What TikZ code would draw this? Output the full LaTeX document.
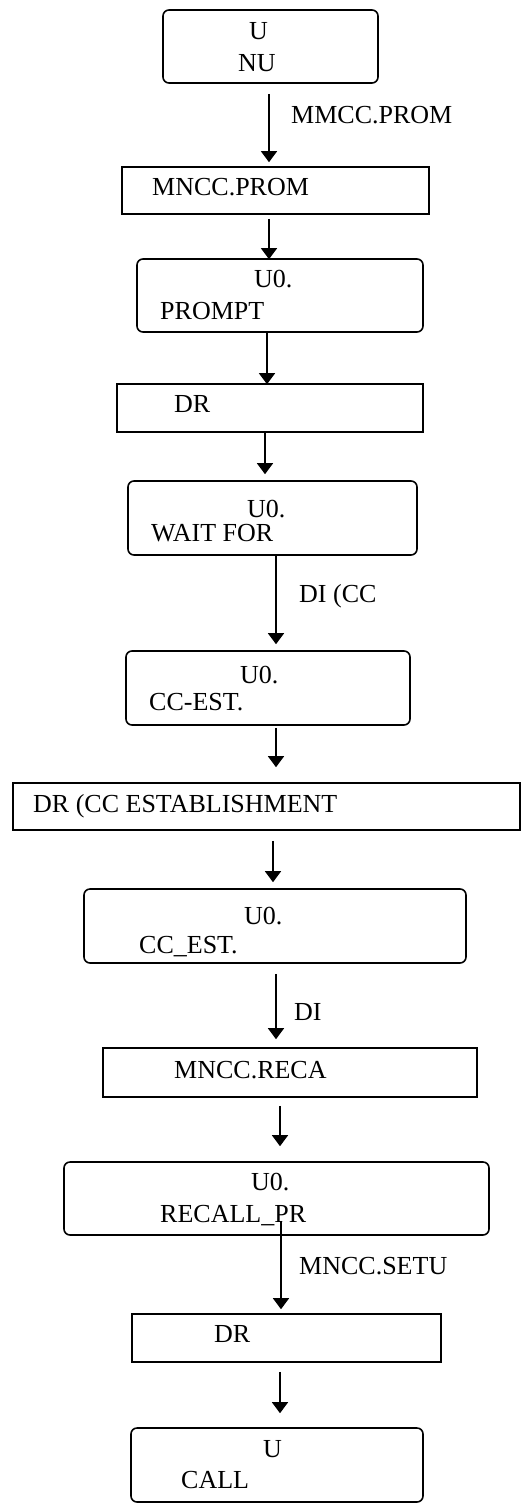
\documentclass[tikz,border=0pt]{standalone}
\usepackage{fontspec}
\setmainfont{Liberation Serif}
\usetikzlibrary{calc,arrows.meta}
\tikzset{
	state/.style={draw, line width=1.6pt, rounded corners=6pt, inner sep=0pt},
	signal/.style={draw, line width=1.6pt, inner sep=0pt},
	txt/.style={anchor=base west, inner sep=0pt},
	arr/.style={line width=1.3pt, -{Triangle[length=11pt, width=16pt]}}
}
\def\link(#1)(#2)(#3:#4:#5){\draw[arr] ($(#1.south -| #3,0)+(0,#4)$) -- ($(#2.north -| #3,0)+(0,#5)$);}

\begin{document}
\begin{tikzpicture}[x=1pt, y=-1pt, font=\fontsize{26}{30}\selectfont]
		%%%%% START %%%%%
		\useasboundingbox (0,0) rectangle (529,1508);
		
		\node[state, minimum width=215pt, minimum height=73pt] (b1) at (270.5, 46.5) {};
		\node[txt] (u1) at (249, 39) {U};
		\node[txt] (s1) at (238, 71) {NU};
		
		\node[signal, minimum width=307pt, minimum height=47pt] (b2) at (275.5, 190.5) {};
		\node[txt] (m2) at (152, 195) {MNCC.PROM};
		
		\node[state, minimum width=286pt, minimum height=73pt] (b3) at (280, 295.5) {};
		\node[txt] (u3) at (254, 287) {U0.};
		\node[txt] (s3) at (160, 319) {PROMPT};
		
		\node[signal, minimum width=306pt, minimum height=48pt] (b4) at (270, 408) {};
		\node[txt] (m4) at (174, 412) {DR};
		
		\node[state, minimum width=289pt, minimum height=74pt] (b5) at (272.5, 518) {};
		\node[txt] (u5) at (247, 517) {U0.};
		\node[txt] (s5) at (151, 541) {WAIT FOR};
		
		\node[state, minimum width=284pt, minimum height=74pt] (b6) at (268, 688) {};
		\node[txt] (u6) at (240, 683) {U0.};
		\node[txt] (s6) at (149, 710) {CC-EST.};
		
		\node[signal, minimum width=507pt, minimum height=47pt] (b7) at (266.5, 806.5) {};
		\node[txt] (m7) at (33, 812) {DR (CC ESTABLISHMENT};
		
		\node[state, minimum width=382pt, minimum height=74pt] (b8) at (275, 926) {};
		\node[txt] (u8) at (244, 924) {U0.};
		\node[txt] (s8) at (139, 953) {CC\_EST.};
		
		\node[signal, minimum width=374pt, minimum height=49pt] (b9) at (290, 1072.5) {};
		\node[txt] (m9) at (174, 1078) {MNCC.RECA};
		
		\node[state, minimum width=425pt, minimum height=73pt] (b10) at (276.5, 1198.5) {};
		\node[txt] (u10) at (251, 1190) {U0.};
		\node[txt] (s10) at (160, 1222) {RECALL\_PR};
		
		\node[signal, minimum width=309pt, minimum height=48pt] (b11) at (286.5, 1338) {};
		\node[txt] (m11) at (214, 1342) {DR};
		
		\node[state, minimum width=292pt, minimum height=74pt] (b12) at (277, 1465) {};
		\node[txt] (u12) at (263, 1457) {U};
		\node[txt] (s12) at (181, 1488) {CALL};
		
		% connectors
		\link(b1)(b2)(269:10:-4)
		\link(b2)(b3)(269:4:1)
		\link(b3)(b4)(267:0:1)
		\link(b4)(b5)(265:0:-6)
		\link(b5)(b6)(276:0:-6)
		\link(b6)(b7)(276:2:-15)
		\link(b7)(b8)(273:10:-6)
		\link(b8)(b9)(276:10:-8)
		\link(b9)(b10)(280:8:-15)
		\link(b10)(b11)(281:-15:-4)
		\link(b11)(b12)(280:9:-14)
		
		% labels on connectors
		\node[txt] (l1) at (291, 123) {MMCC.PROM};
		\node[txt] (l5) at (299, 602) {DI (CC};
		\node[txt] (l8) at (294, 1020) {DI};
		\node[txt] (l10) at (299, 1274) {MNCC.SETU};
		
		%%%%% END %%%%%
\end{tikzpicture}
\end{document}
